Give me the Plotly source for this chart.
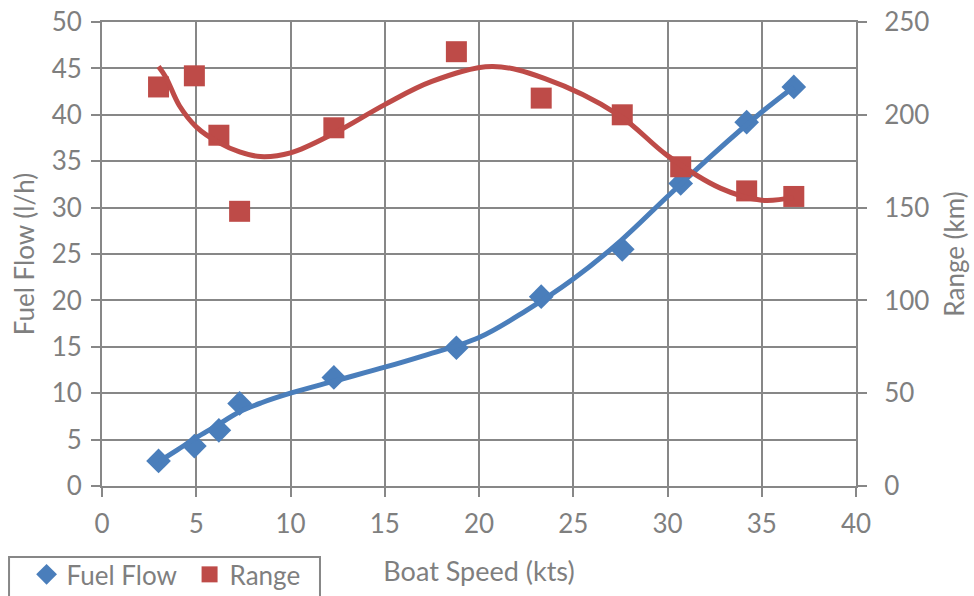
import plotly.graph_objects as go

# ---- data ----
speed_kts = [3.0, 4.9, 6.2, 7.3, 12.3, 18.8, 23.3, 27.6, 30.7, 34.2, 36.7]
fuel_flow = [2.7, 4.3, 6.0, 8.9, 11.7, 14.9, 20.4, 25.5, 32.6, 39.2, 43.0]
range_km = [215, 221, 189, 148, 193, 234, 209, 200, 172, 159, 156]

# trend lines
fuel_trend_x = [3.0, 4.0, 5.0, 6.0, 7.3, 8.5, 10.0, 12.3, 15.0, 17.0, 20.0, 22.5, 25.0, 27.5, 30.0, 32.5, 35.0, 36.7]
fuel_trend_y = [2.6, 3.9, 5.2, 6.4, 8.0, 9.0, 10.0, 11.3, 12.8, 14.0, 16.0, 18.9, 22.3, 26.4, 31.2, 35.9, 40.3, 43.0]
range_trend_x = [3.0, 3.4, 4.1, 5.0, 6.2, 7.3, 8.4, 10.0, 12.3, 15.0, 17.5, 20.7, 23.5, 27.4, 30.0, 32.8, 35.0, 36.7]
range_trend_y = [226, 220, 205, 193.5, 185, 180, 177.5, 179.5, 190, 205.5, 218, 226, 219.5, 200, 178, 160.5, 154, 155.5]

x_ticks = [0, 5, 10, 15, 20, 25, 30, 35, 40]
fuel_ticks = [0, 5, 10, 15, 20, 25, 30, 35, 40, 45, 50]
range_ticks = [0, 50, 100, 150, 200, 250]

BLUE = "#4a7ebb"
RED = "#be4b48"
GRID = "#878787"
TXT = "#7f7f7f"
FONT = "Lato, Carlito, Calibri, sans-serif"

fig = go.Figure()

fig.add_trace(go.Scatter(
    x=speed_kts, y=fuel_flow, name="Fuel Flow", mode="markers",
    marker=dict(symbol="diamond", size=19, color=BLUE, line=dict(width=0)),
))
fig.add_trace(go.Scatter(
    x=speed_kts, y=range_km, name="Range", mode="markers", yaxis="y2",
    marker=dict(symbol="square", size=21, color=RED, line=dict(width=0)),
))
fig.add_trace(go.Scatter(
    x=fuel_trend_x, y=fuel_trend_y, mode="lines", showlegend=False,
    line=dict(color=BLUE, width=5, shape="spline", smoothing=1.0), hoverinfo="skip",
))
fig.add_trace(go.Scatter(
    x=range_trend_x, y=range_trend_y, mode="lines", showlegend=False, yaxis="y2",
    line=dict(color=RED, width=5, shape="spline", smoothing=1.0), hoverinfo="skip",
))

# legend frame (drawn as a shape so its size matches the reference)
fig.add_shape(
    type="rect", xref="paper", yref="paper",
    x0=-0.1233, x1=0.2891, y0=-0.153, y1=-0.30,
    line=dict(color=GRID, width=2), fillcolor="rgba(0,0,0,0)", layer="above",
)

fig.update_layout(
    width=974, height=596,
    margin=dict(l=102, r=118, t=22, b=110, autoexpand=False),
    paper_bgcolor="white", plot_bgcolor="white",
    font=dict(family=FONT, size=26, color=TXT),
    showlegend=True,
    legend=dict(
        orientation="h", x=-0.1167, xanchor="left", y=-0.140, yanchor="top",
        borderwidth=0, bgcolor="rgba(0,0,0,0)",
        font=dict(family=FONT, size=26, color=TXT),
        title=dict(text="\u00a0", side="left", font=dict(size=10)),
        entrywidth=118,
        itemsizing="trace", traceorder="normal",
    ),
    xaxis=dict(
        range=[0, 40], tickvals=x_ticks, ticks="outside", ticklen=9, tickwidth=2,
        tickcolor=GRID, showgrid=True, gridcolor=GRID, gridwidth=2,
        showline=True, linecolor=GRID, linewidth=2, mirror=True, zeroline=False,
        ticklabelstandoff=5, tickfont=dict(size=26), ticklabeloverflow="allow",
        title=dict(text="Boat Speed (kts)", standoff=24, font=dict(size=27, color=TXT)),
    ),
    yaxis=dict(
        range=[0, 50], tickvals=fuel_ticks, ticks="outside", ticklen=9, tickwidth=2,
        tickcolor=GRID, showgrid=True, gridcolor=GRID, gridwidth=2,
        showline=True, linecolor=GRID, linewidth=2, zeroline=False,
        ticklabelstandoff=4, tickfont=dict(size=26), ticklabeloverflow="allow",
        title=dict(text="Fuel Flow (l/h)", standoff=10, font=dict(size=26, color=TXT)),
    ),
    yaxis2=dict(
        range=[0, 250], tickvals=range_ticks, overlaying="y", side="right",
        ticks="outside", ticklen=9, tickwidth=2, tickcolor=GRID, showgrid=False,
        showline=True, linecolor=GRID, linewidth=2, zeroline=False,
        ticklabelstandoff=12, tickfont=dict(size=26), ticklabeloverflow="allow",
        title=dict(text="Range (km)", standoff=17, font=dict(size=26, color=TXT)),
    ),
)

fig.write_html(
    "out.html",
    config={"displayModeBar": False},
    post_script="document.body.style.margin='0';document.body.style.overflow='hidden';",
)
